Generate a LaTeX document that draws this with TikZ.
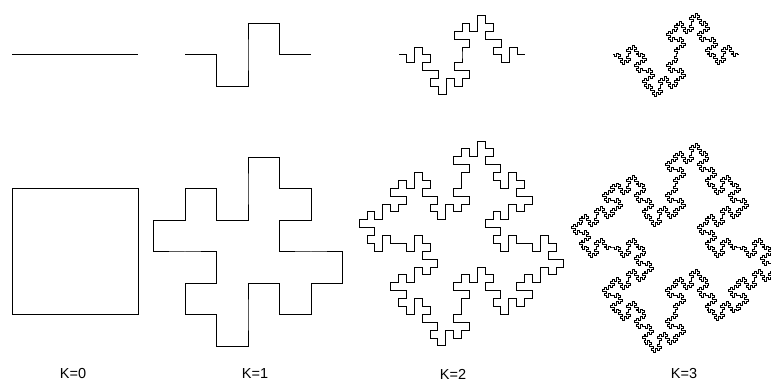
\documentclass[tikz,border=0pt]{standalone}
\usepackage{fontspec}
\setmainfont{Liberation Sans}
\usetikzlibrary{lindenmayersystems}
\pgfdeclarelindenmayersystem{Minkowski}{\rule{F -> F-F+F+FF-F-F+F}}
\begin{document}
\begin{tikzpicture}[x=1pt,y=1pt,
  curve/.style={line width=1pt, black, line join=miter},
  lbl/.style={font=\fontsize{14.5}{17}\selectfont, inner sep=0pt}]
\useasboundingbox (0,0) rectangle (771,383);
\clip (0,0) rectangle (771,383);
% top row: curves
\draw[curve, shift={(12,328)}, lindenmayer system={Minkowski, axiom=F, order=0, step=126pt, angle=90}] lindenmayer system;
\draw[curve, shift={(185,328)}, lindenmayer system={Minkowski, axiom=F, order=1, step=31.5pt, angle=90}] lindenmayer system;
\draw[curve, shift={(399,328)}, lindenmayer system={Minkowski, axiom=F, order=2, step=7.875pt, angle=90}] lindenmayer system;
\draw[curve, shift={(613,328)}, lindenmayer system={Minkowski, axiom=F, order=3, step=1.96875pt, angle=90}] lindenmayer system;
% bottom row: islands
\draw[curve, shift={(12,194)}, lindenmayer system={Minkowski, axiom=F-F-F-F, order=0, step=126pt, angle=90}] lindenmayer system -- cycle;
\draw[curve, shift={(185,194)}, lindenmayer system={Minkowski, axiom=F-F-F-F, order=1, step=31.5pt, angle=90}] lindenmayer system -- cycle;
\draw[curve, shift={(398.5,202.5)}, lindenmayer system={Minkowski, axiom=F-F-F-F, order=2, step=7.875pt, angle=90}] lindenmayer system -- cycle;
\draw[curve, shift={(612.5,198)}, lindenmayer system={Minkowski, axiom=F-F-F-F, order=3, step=1.96875pt, angle=90}] lindenmayer system -- cycle;
% labels
\node[lbl] (k0) at (73,9) {K=0};
\node[lbl] (k1) at (255,9) {K=1};
\node[lbl] (k2) at (453,9) {K=2};
\node[lbl] (k3) at (684,9) {K=3};
\end{tikzpicture}
\end{document}
